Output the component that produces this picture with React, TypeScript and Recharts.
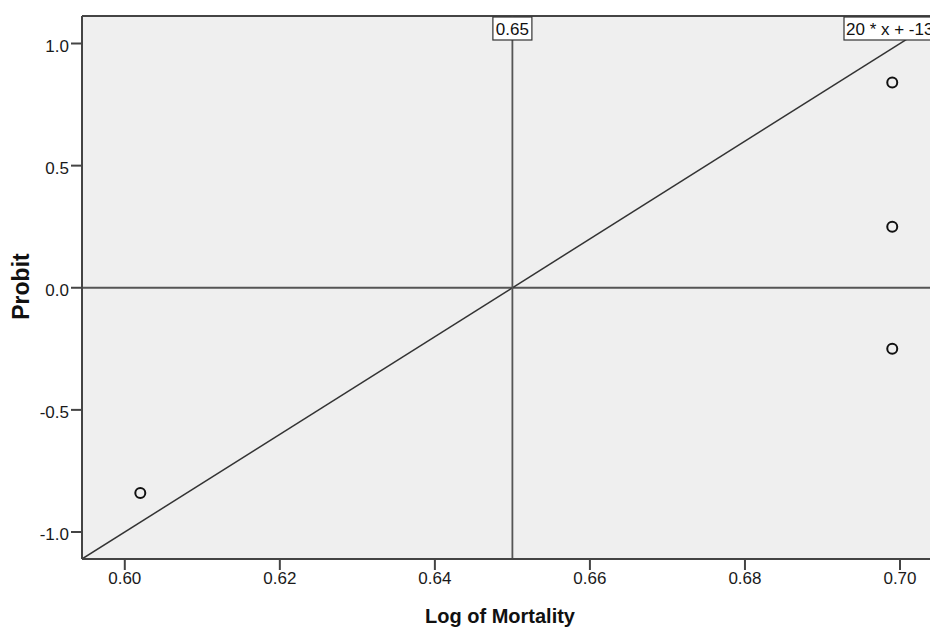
import React from 'react';
import { ScatterChart, Scatter, XAxis, YAxis, CartesianGrid, ReferenceLine, Label } from 'recharts';

// ---- data ----
const logMortality = [0.602, 0.699, 0.699, 0.699];
const probitValues = [-0.84, 0.84, 0.25, -0.25];
const xTicks = [0.6, 0.62, 0.64, 0.66, 0.68, 0.7];
const yTicks = [-1.0, -0.5, 0.0, 0.5, 1.0];
const refLineX = 0.65;
const refLineY = 0;
const fitSlope = 20;
const fitIntercept = -13;
const fitLabel = '20 * x + -13';
const xDomain = [0.59448, 0.70387];
const yDomain = [-1.1105, 1.1126];

const points = logMortality.map((x, i) => ({ x, y: probitValues[i] }));
const fitSegment = [
  { x: xDomain[0], y: fitSlope * xDomain[0] + fitIntercept },
  { x: xDomain[1], y: fitSlope * xDomain[1] + fitIntercept },
];

const FONT = '"Liberation Sans", Arial, sans-serif';
const AXIS = '#444';

const XTick = (props: any) => {
  const { x, y, payload } = props;
  return (
    <text x={x} y={y} dy={12} textAnchor="middle" fontFamily={FONT} fontSize={17} fill="#1a1a1a">
      {Number(payload.value).toFixed(2)}
    </text>
  );
};

const YTick = (props: any) => {
  const { x, y, payload } = props;
  return (
    <text x={x} y={y} dy={8} textAnchor="end" fontFamily={FONT} fontSize={17} fill="#1a1a1a">
      {Number(payload.value).toFixed(1)}
    </text>
  );
};

const XTitle = (props: any) => {
  const vb = props.viewBox || {};
  return (
    <text x={vb.x + vb.width / 2 - 6} y={vb.y + 64} textAnchor="middle" fontFamily={FONT} fontSize={20} fontWeight="bold" fill="#111">
      Log of Mortality
    </text>
  );
};

const YTitle = (props: any) => {
  const vb = props.viewBox || {};
  const cx = vb.x + 21;
  const cy = vb.y + vb.height / 2 - 1;
  return (
    <text x={cx} y={cy} transform={`rotate(-90, ${cx}, ${cy})`} dy={8} textAnchor="middle" fontFamily={FONT} fontSize={23} fontWeight="bold" fill="#111">
      Probit
    </text>
  );
};

const BoxLabel = (props: any) => {
  const { viewBox, text, width, anchor } = props;
  const vb = viewBox || {};
  const left = anchor === 'center' ? vb.x - width / 2 : vb.x - 86;
  const top = vb.y + 1;
  return (
    <g>
      <rect x={left} y={top} width={width} height={23} fill="#fff" stroke="#333" strokeWidth={1.2} />
      <text x={left + (anchor === 'center' ? width / 2 : 2)} y={top + 18} textAnchor={anchor === 'center' ? 'middle' : 'start'} fontFamily={FONT} fontSize={17} fill="#111">
        {text}
      </text>
    </g>
  );
};

const Circle = (props: any) => {
  const { cx, cy } = props;
  return <circle cx={cx} cy={cy} r={5} fill="none" stroke="#111" strokeWidth={2} />;
};

export default function App() {
  return (
    <div style={{ position: 'absolute', left: 0, top: 0, width: 930, height: 630, background: '#fff' }}>
      <ScatterChart width={930} height={630} margin={{ top: 16, right: 0, bottom: 0, left: 0 }}>
        <CartesianGrid horizontal={false} vertical={false} fill="#efefef" />
        <XAxis
          dataKey="x"
          type="number"
          domain={xDomain}
          ticks={xTicks}
          allowDataOverflow
          height={71}
          tickSize={11}
          tickMargin={2}
          axisLine={{ stroke: AXIS, strokeWidth: 2 }}
          tickLine={{ stroke: AXIS, strokeWidth: 2 }}
          tick={<XTick />}
          interval={0}
        >
          <Label content={<XTitle />} />
        </XAxis>
        <YAxis
          dataKey="y"
          type="number"
          domain={yDomain}
          ticks={yTicks}
          allowDataOverflow
          width={82}
          tickSize={11}
          tickMargin={2}
          axisLine={{ stroke: AXIS, strokeWidth: 2 }}
          tickLine={{ stroke: AXIS, strokeWidth: 2 }}
          tick={<YTick />}
          interval={0}
        >
          <Label content={<YTitle />} />
        </YAxis>
        <ReferenceLine y={yDomain[1]} stroke={AXIS} strokeWidth={2} />
        <ReferenceLine y={refLineY} stroke="#555" strokeWidth={1.8} />
        <ReferenceLine segment={fitSegment} stroke="#333" strokeWidth={1.5} ifOverflow="hidden" />
        <ReferenceLine
          x={refLineX}
          stroke="#555"
          strokeWidth={1.8}
          label={<BoxLabel text={String(refLineX)} width={39} anchor="center" />}
        />
        <ReferenceLine
          x={xDomain[1]}
          stroke="none"
          label={<BoxLabel text={fitLabel} width={95} anchor="right" />}
        />
        <Scatter data={points} shape={<Circle />} isAnimationActive={false} />
      </ScatterChart>
    </div>
  );
}
